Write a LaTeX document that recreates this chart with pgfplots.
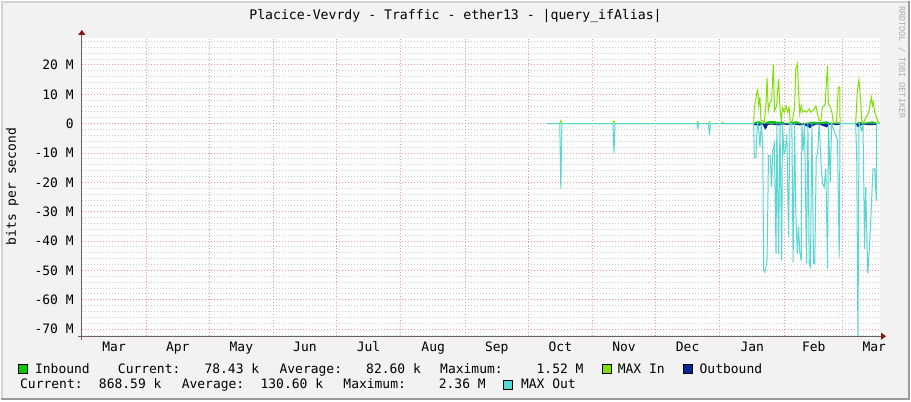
\documentclass[border=0pt]{standalone}
\usepackage{fontspec}
\setmainfont{DejaVu Sans Mono}
\usepackage{pgfplots}
\pgfplotsset{compat=1.18}
\usetikzlibrary{arrows.meta}

\definecolor{inbound}{RGB}{0,204,0}
\definecolor{maxin}{RGB}{128,224,0}
\definecolor{outbound}{RGB}{0,40,150}
\definecolor{maxout}{RGB}{85,215,210}
\definecolor{bgcol}{RGB}{242,242,242}
\definecolor{mgrid}{RGB}{240,150,150}
\definecolor{mingrid}{RGB}{205,205,205}
\definecolor{axiscol}{RGB}{110,95,95}
\definecolor{arrowcol}{RGB}{140,20,20}
\definecolor{shadea}{RGB}{210,210,210}
\definecolor{shadeb}{RGB}{155,155,155}
\definecolor{wmgray}{RGB}{175,175,175}

\newcommand\lf{\fontsize{13}{15}\selectfont}

\begin{document}
\begin{tikzpicture}[x=1pt,y=1pt]
% canvas and frame
\fill[bgcol] (0,0) rectangle (911,400);
\draw[shadea, line width=2pt] (1,0) -- (1,399) -- (911,399);
\draw[shadeb, line width=2pt] (0,1) -- (910,1) -- (910,400);

% days counted from 1 Mar, values in M bits/s
\begin{axis}[
  at={(81pt,64pt)}, anchor=south west,
  width=800pt, height=299.3pt, scale only axis,
  xmin=0, xmax=382.8, ymin=-72.4, ymax=29.3,
  axis background/.style={fill=white},
  axis line style={draw=none},
  major tick length=0pt, minor tick length=0pt,
  xtick={15.5,46,76.5,107,137.5,168.5,199,229.5,260,290.5,321.5,351,380},
  xticklabels={Mar,Apr,May,Jun,Jul,Aug,Sep,Oct,Nov,Dec,Jan,Feb,Mar},
  extra x ticks={31,61,92,122,153,184,214,245,275,306,337,365},
  extra x tick labels={},
  extra x tick style={grid=major},
  ytick={-70,-60,...,20},
  yticklabels={-70 M,-60 M,-50 M,-40 M,-30 M,-20 M,-10 M,0,10 M,20 M},
  minor ytick={-72,-70,...,28},
  ymajorgrids=true, yminorgrids=true,
  major grid style={mgrid, line width=1pt, dash pattern=on 1pt off 2pt},
  minor grid style={mingrid, line width=1pt, dash pattern=on 1pt off 2pt},
  ticklabel style={font=\lf, inner sep=0pt},
  xticklabel style={anchor=base, yshift=-15pt},
  yticklabel style={anchor=east, xshift=-8pt},
  clip=true,
]
% Inbound
\addplot[fill=inbound, draw=none] coordinates {
  (322.2,0) (322.5,0.3) (323.5,0.8) (325,0.8) (326.5,0.3) (328,0.4) (329,0.8)
  (331,0.9) (332.5,0.9) (334,0.5) (335.5,0.8) (337,0.3) (339,0.3) (341,0.6)
  (343,0.8) (344.5,0.3) (347,0.2) (349,0.5) (351,0.7) (353,0.5) (355,0.6)
  (357,0.8) (359,0.3) (361,0.2) (363,0.5) (363.6,0) (371.1,0) (372,0.4)
  (373,0.6) (375,0.3) (377,0.5) (379,0.8) (381,0.4) (381.5,0)
};
% MAX In
\addplot[maxin, line width=1pt, mark=none] coordinates {
  (223.0,0) (229.2,0) (229.7,1.0) (230.2,0) (254.7,0) (255.2,0.8) (255.7,0)
  (294.9,0) (295.4,0.6) (295.9,0) (300.5,0) (301.0,0.6) (301.5,0)
  (306.8,0) (307.3,0.5) (307.8,0) (322.2,0)
  (322.5,5.5) (323.6,10.1) (324.1,11.5) (324.6,6.1) (325.2,9.0) (325.7,1.0)
  (326.5,1.0) (327.3,0.5) (328.1,6.7) (328.6,15.5) (329.2,4.4) (330.0,7.3)
  (330.8,7.8) (331.6,20.3) (332.2,4.4) (333.2,6.1) (334.1,15.2) (334.8,5.5)
  (335.4,1.0) (336.0,5.5) (336.8,3.9) (337.7,6.1) (338.4,3.9) (339.2,5.5)
  (339.7,0.5) (340.8,1.0) (341.8,5.5) (342.4,18.6) (343.2,20.4) (343.7,11.2)
  (344.3,3.3) (345.0,6.1) (345.6,3.9) (346.4,4.4) (347.5,3.9) (348.8,5.0)
  (349.6,3.9) (350.7,4.4) (352.0,6.1) (352.8,3.3) (353.6,1.0) (354.4,1.0)
  (355.2,5.5) (356.5,6.7) (357.1,14.6) (357.6,19.7) (358.0,6.7) (358.7,6.1)
  (359.7,3.9) (360.3,0.5) (361.9,0.5) (362.8,12.4) (363.5,12.4) (363.6,0)
  (371.1,0) (371.9,11.2) (372.7,14.9) (373.5,7.8) (374.0,1.0) (375.1,0.5)
  (375.9,2.2) (376.7,2.7) (377.5,4.4) (378.6,9.0) (379.1,6.1) (379.6,7.3)
  (380.2,3.9) (380.7,3.3) (381.5,1.0) (382.8,0)
};
% Outbound
\addplot[fill=outbound, draw=none] coordinates {
  (322.2,0) (322.5,-0.5) (325,-0.7) (326.5,-0.3) (327,-1.0) (327.6,-2.0)
  (328.3,-1.6) (329,-0.4) (331,-0.3) (334,-0.6) (336,-0.3) (338,-0.4)
  (341,-0.3) (344.5,-0.6) (346,-0.3) (347.5,-0.9) (349.3,-1.5) (350.5,-0.8)
  (352,-0.3) (354,-0.4) (357.3,-1.3) (358.2,-0.4) (360,-0.3) (362,-0.5)
  (363.5,-0.4) (363.6,0) (371.1,0) (371.6,-0.6) (372.2,-1.3) (373,-0.7)
  (375,-0.3) (377,-0.5) (379,-0.5) (381,-0.4) (381.5,0)
};
% MAX Out
\addplot[maxout, line width=1pt, mark=none] coordinates {
  (223.0,0) (229.2,0) (229.7,-22.2) (230.2,0) (254.7,0) (255.2,-10.0) (255.7,0)
  (294.9,0) (295.4,-1.6) (295.9,0) (300.5,0) (301.0,-3.9) (301.5,0) (322.2,0)
  (322.5,-11.5) (323.3,-11.5) (323.6,-4.6) (324.1,0) (324.6,-1.7) (325.2,-8.0)
  (325.8,0) (326.5,-5.7) (327.0,-50.0) (327.6,-50.6) (328.6,-46.6) (329.3,-10.9)
  (330.1,-10.9) (330.8,-21.6) (331.3,-9.2) (332.1,-6.9) (332.9,-44.3) (333.3,0)
  (334.1,-44.3) (334.8,0) (335.6,-46.6) (336.0,0) (336.7,-10.3) (337.3,-9.2)
  (338.1,-3.5) (338.9,-38.6) (339.6,0) (340.5,0) (341.1,-47.2) (341.8,0)
  (342.4,-30.7) (343.1,-44.3) (343.7,-35.2) (344.3,-43.8) (345.0,-46.6) (345.3,0)
  (345.9,-9.2) (346.6,0) (347.5,-47.7) (348.2,0) (348.8,-47.7) (349.4,-48.9)
  (350.1,0) (350.9,-47.7) (351.5,-47.7) (352.2,-11.5) (352.8,-10.3) (353.6,0)
  (354.4,-12.6) (355.2,-20.5) (356.0,-21.6) (356.8,-15.4) (357.6,-49.4) (358.1,0)
  (358.9,-19.9) (359.6,0) (362.4,-5.7) (363.2,-45.5) (363.6,0) (371.1,0)
  (371.6,-11.5) (372.2,-75) (372.7,0) (374.0,-2.3) (374.6,0) (375.4,-42.6)
  (375.9,-21.6) (376.9,-51.1) (377.8,-40.9) (378.6,-28.5) (379.4,-15.4)
  (380.2,-15.4) (381.0,-26.2) (381.2,0) (382.8,0)
};
\end{axis}

% axis lines with arrows
\draw[axiscol, line width=1pt, -{Triangle[length=5pt,width=7pt,color=arrowcol]}] (77,64) -- (887,64);
\draw[axiscol, line width=1pt, -{Triangle[length=5pt,width=7pt,color=arrowcol]}] (81,60) -- (81,371);

% title, axis label, watermark
\node[anchor=base, inner sep=0pt, font=\fontsize{13.2}{15}\selectfont] at (455.5,381.5)
  {Placice-Vevrdy - Traffic - ether13 - |query\_ifAlias|};
\node[rotate=90, anchor=base, inner sep=0pt, font=\lf] at (15,214) {bits per second};
\node[rotate=-90, anchor=base, inner sep=0pt, font=\fontsize{8.5}{10}\selectfont, text=wmgray]
  at (900,338.5) {RRDTOOL / TOBI OETIKER};

% legend row 1
\filldraw[fill=inbound, draw=black, line width=0.6pt] (17.5,27) rectangle (26.5,36);
\node[anchor=base west, inner sep=0pt, font=\lf] at (34,26.7) {Inbound};
\node[anchor=base west, inner sep=0pt, font=\lf] at (117,26.7) {Current:};
\node[anchor=base east, inner sep=0pt, font=\lf] at (259,26.7) {78.43 k};
\node[anchor=base west, inner sep=0pt, font=\lf] at (279,26.7) {Average:};
\node[anchor=base east, inner sep=0pt, font=\lf] at (421,26.7) {82.60 k};
\node[anchor=base west, inner sep=0pt, font=\lf] at (440,26.7) {Maximum:};
\node[anchor=base east, inner sep=0pt, font=\lf] at (584,26.7) {1.52 M};
\filldraw[fill=maxin, draw=black, line width=0.6pt] (602.5,27) rectangle (611.5,36);
\node[anchor=base west, inner sep=0pt, font=\lf] at (618,26.7) {MAX In};
\filldraw[fill=outbound, draw=black, line width=0.6pt] (683.5,27) rectangle (692.5,36);
\node[anchor=base west, inner sep=0pt, font=\lf] at (700,26.7) {Outbound};
% legend row 2
\node[anchor=base west, inner sep=0pt, font=\lf] at (19,11.7) {Current:};
\node[anchor=base east, inner sep=0pt, font=\lf] at (161,11.7) {868.59 k};
\node[anchor=base west, inner sep=0pt, font=\lf] at (181,11.7) {Average:};
\node[anchor=base east, inner sep=0pt, font=\lf] at (323,11.7) {130.60 k};
\node[anchor=base west, inner sep=0pt, font=\lf] at (343,11.7) {Maximum:};
\node[anchor=base east, inner sep=0pt, font=\lf] at (486,11.7) {2.36 M};
\filldraw[fill=maxout, draw=black, line width=0.6pt] (503.5,11) rectangle (512.5,20);
\node[anchor=base west, inner sep=0pt, font=\lf] at (521,11.7) {MAX Out};
\end{tikzpicture}
\end{document}
